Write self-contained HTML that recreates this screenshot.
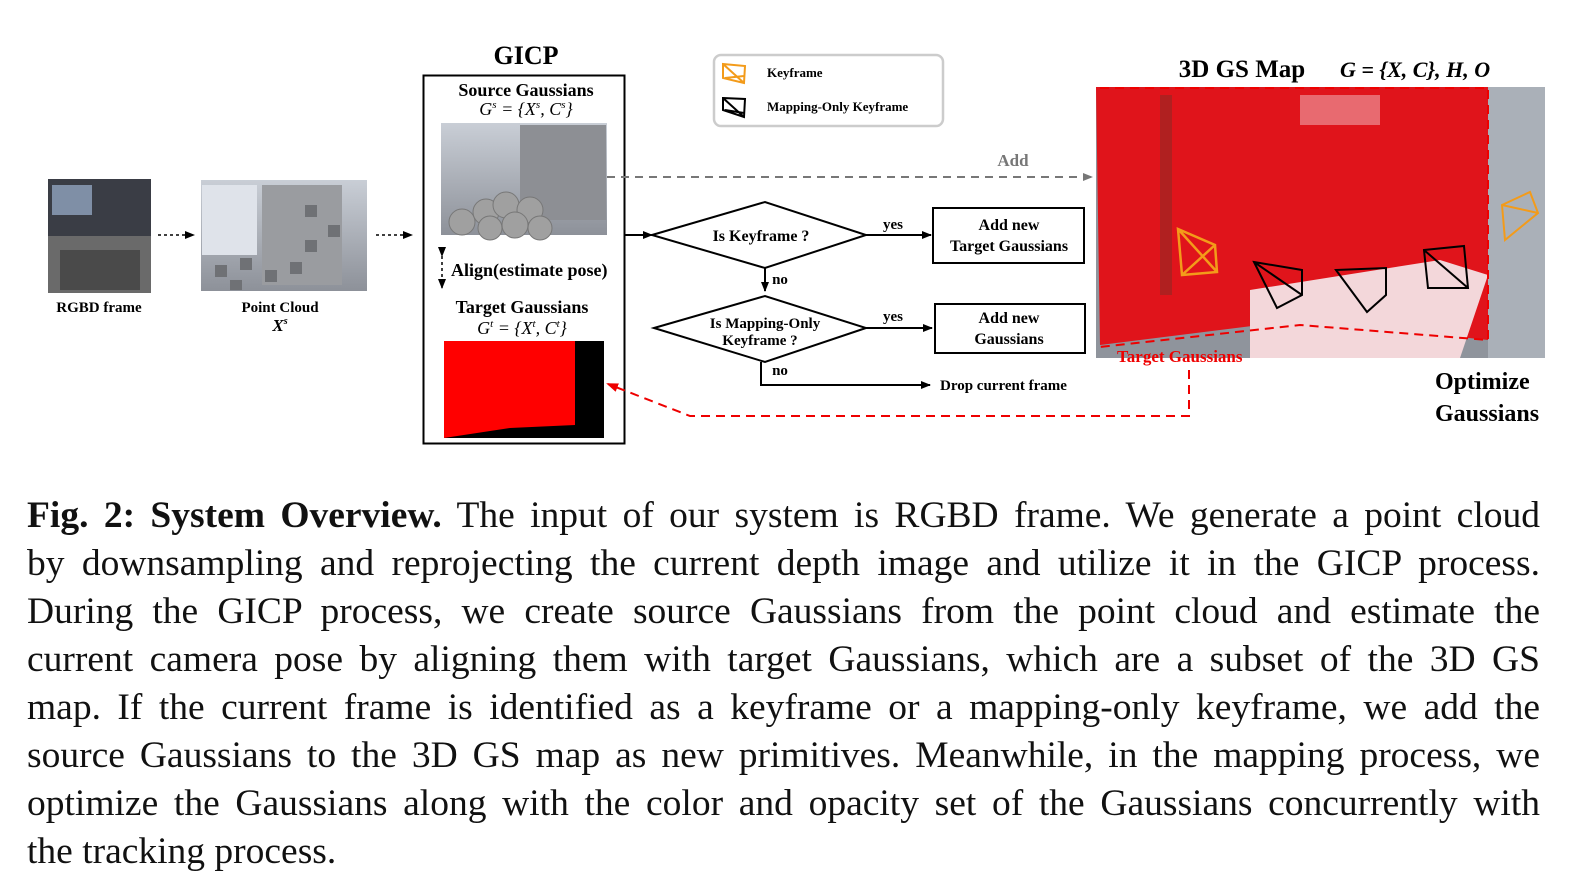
<!DOCTYPE html>
<html><head><meta charset="utf-8"><style>
body{margin:0;background:#fff;width:1578px;height:888px;overflow:hidden;position:relative;font-family:"Liberation Serif",serif}
svg{position:absolute;left:0;top:0}
.cap{position:absolute;left:27px;top:492px;width:1513px;font-size:37.5px;line-height:48px;color:#111}
.cap div{text-align:justify;text-align-last:justify;white-space:nowrap}
.cap div.l{text-align-last:left}
</style></head><body>
<svg width="1578" height="460" viewBox="0 0 1578 460" font-family="Liberation Serif, serif">
<defs>
<marker id="ab" markerWidth="10" markerHeight="8" refX="9" refY="4" orient="auto" markerUnits="userSpaceOnUse"><path d="M0,0L10,4L0,8z" fill="#000"/></marker>
<marker id="ag" markerWidth="10" markerHeight="8" refX="9" refY="4" orient="auto" markerUnits="userSpaceOnUse"><path d="M0,0L10,4L0,8z" fill="#777"/></marker>
<marker id="ar" markerWidth="12" markerHeight="9" refX="10" refY="4.5" orient="auto" markerUnits="userSpaceOnUse"><path d="M0,0L12,4.5L0,9z" fill="#e00"/></marker>
<linearGradient id="sky" x1="0" y1="0" x2="0" y2="1"><stop offset="0" stop-color="#c9ced6"/><stop offset="1" stop-color="#8d9199"/></linearGradient>
</defs>
<rect x="48" y="179" width="103" height="57" fill="#3a3d45"/>
<rect x="52" y="185" width="40" height="30" fill="#7f8fa6"/>
<rect x="48" y="236" width="103" height="57" fill="#6a6a6a"/>
<rect x="60" y="250" width="80" height="40" fill="#4a4a4a"/>
<text x="99" y="312" font-size="15" font-weight="bold" text-anchor="middle">RGBD frame</text>
<line x1="158" y1="235" x2="194" y2="235" stroke="#000" stroke-width="1.5" stroke-dasharray="3,3" marker-end="url(#ab)"/>
<rect x="201" y="180" width="166" height="111" fill="url(#sky)"/>
<rect x="262" y="185" width="80" height="100" fill="#9a9ca0"/>
<rect x="202" y="185" width="55" height="70" fill="#dfe3ea"/>
<g fill="#6f7175"><rect x="215" y="265" width="12" height="12"/><rect x="240" y="258" width="12" height="12"/><rect x="265" y="270" width="12" height="12"/><rect x="290" y="262" width="12" height="12"/><rect x="305" y="205" width="12" height="12"/><rect x="328" y="225" width="12" height="12"/><rect x="305" y="240" width="12" height="12"/><rect x="230" y="280" width="12" height="10"/></g>
<text x="280" y="312" font-size="15" font-weight="bold" text-anchor="middle">Point Cloud</text>
<text x="280" y="331" font-size="17" font-style="italic" font-weight="bold" text-anchor="middle">X<tspan font-size="10" dy="-7">s</tspan></text>
<line x1="376" y1="235" x2="412" y2="235" stroke="#000" stroke-width="1.5" stroke-dasharray="3,3" marker-end="url(#ab)"/>
<text x="526" y="64" font-size="26" font-weight="bold" text-anchor="middle">GICP</text>
<rect x="423.5" y="75.5" width="201" height="368" fill="none" stroke="#000" stroke-width="2"/>
<text x="526" y="96" font-size="18" font-weight="bold" text-anchor="middle">Source Gaussians</text>
<text x="526" y="115" font-size="18" font-style="italic" text-anchor="middle">G<tspan font-size="11" dy="-7">s</tspan><tspan dy="7"> = {X</tspan><tspan font-size="11" dy="-7">s</tspan><tspan dy="7">, C</tspan><tspan font-size="11" dy="-7">s</tspan><tspan dy="7">}</tspan></text>
<rect x="441" y="123" width="166" height="112" fill="url(#sky)"/>
<rect x="520" y="125" width="86" height="95" fill="#8d8f94"/>
<g fill="#a0a0a0" stroke="#777"><circle cx="462" cy="222" r="13"/><circle cx="486" cy="212" r="13"/><circle cx="506" cy="205" r="13"/><circle cx="530" cy="210" r="13"/><circle cx="515" cy="225" r="13"/><circle cx="540" cy="228" r="12"/><circle cx="490" cy="228" r="12"/></g>
<line x1="442" y1="256" x2="442" y2="288" stroke="#000" stroke-width="1.5" stroke-dasharray="3,3" marker-start="url(#ab)" marker-end="url(#ab)"/>
<text x="451" y="276" font-size="18" font-weight="bold">Align(estimate pose)</text>
<text x="522" y="313" font-size="18" font-weight="bold" text-anchor="middle">Target Gaussians</text>
<text x="522" y="334" font-size="18" font-style="italic" text-anchor="middle">G<tspan font-size="11" dy="-7">t</tspan><tspan dy="7"> = {X</tspan><tspan font-size="11" dy="-7">t</tspan><tspan dy="7">, C</tspan><tspan font-size="11" dy="-7">t</tspan><tspan dy="7">}</tspan></text>
<rect x="444" y="341" width="160" height="97" fill="#000"/>
<path d="M444,341H575V425L510,428L444,438z" fill="#f00"/>
<line x1="625" y1="235" x2="652" y2="235" stroke="#000" stroke-width="2" marker-end="url(#ab)"/>
<rect x="714" y="55" width="229" height="71" rx="7" fill="#fff" stroke="#ccc" stroke-width="2.5"/>
<path d="M723,64L745,66L744,83L723,78zM723,64L744,83M725,78L744,76" fill="none" stroke="#f39b1a" stroke-width="2"/>
<path d="M723,98L745,99L744,117L723,110zM723,98L744,117M725,110L744,113" fill="none" stroke="#000" stroke-width="2"/>
<text x="767" y="77" font-size="13" font-weight="bold">Keyframe</text>
<text x="767" y="111" font-size="13" font-weight="bold">Mapping-Only Keyframe</text>
<line x1="607" y1="177" x2="1092" y2="177" stroke="#777" stroke-width="2" stroke-dasharray="8,6" marker-end="url(#ag)"/>
<text x="1013" y="166" font-size="17" font-weight="bold" fill="#777" text-anchor="middle">Add</text>
<path d="M652,235L765,202L866,235L765,268z" fill="#fff" stroke="#000" stroke-width="2"/>
<text x="761" y="241" font-size="16" font-weight="bold" text-anchor="middle">Is Keyframe ?</text>
<line x1="866" y1="235" x2="931" y2="235" stroke="#000" stroke-width="2" marker-end="url(#ab)"/>
<text x="893" y="229" font-size="15" font-weight="bold" text-anchor="middle">yes</text>
<rect x="933" y="208" width="151" height="55" fill="#fff" stroke="#000" stroke-width="2"/>
<text x="1009" y="230" font-size="16" font-weight="bold" text-anchor="middle">Add new</text>
<text x="1009" y="251" font-size="16" font-weight="bold" text-anchor="middle">Target Gaussians</text>
<line x1="765" y1="268" x2="765" y2="291" stroke="#000" stroke-width="2" marker-end="url(#ab)"/>
<text x="780" y="284" font-size="15" font-weight="bold" text-anchor="middle">no</text>
<path d="M654,328L765,296L866,328L765,362z" fill="#fff" stroke="#000" stroke-width="2"/>
<text x="765" y="328" font-size="15" font-weight="bold" text-anchor="middle">Is Mapping-Only</text>
<text x="760" y="345" font-size="15" font-weight="bold" text-anchor="middle">Keyframe ?</text>
<line x1="866" y1="328" x2="932" y2="328" stroke="#000" stroke-width="2" marker-end="url(#ab)"/>
<text x="893" y="321" font-size="15" font-weight="bold" text-anchor="middle">yes</text>
<rect x="935" y="304" width="150" height="49" fill="#fff" stroke="#000" stroke-width="2"/>
<text x="1009" y="323" font-size="16" font-weight="bold" text-anchor="middle">Add new</text>
<text x="1009" y="344" font-size="16" font-weight="bold" text-anchor="middle">Gaussians</text>
<path d="M761,362V385H930" fill="none" stroke="#000" stroke-width="2" marker-end="url(#ab)"/>
<text x="780" y="375" font-size="15" font-weight="bold" text-anchor="middle">no</text>
<text x="940" y="390" font-size="15" font-weight="bold">Drop current frame</text>
<path d="M1189,370V416H690L608,384" fill="none" stroke="#e00" stroke-width="2" stroke-dasharray="9,6" marker-end="url(#ar)"/>
<text x="1242" y="77" font-size="25" font-weight="bold" text-anchor="middle">3D GS Map</text>
<text x="1340" y="77" font-size="22" font-style="italic" font-weight="bold">G = {X, C}, H, O</text>
<rect x="1096" y="87" width="449" height="271" fill="#8f949c"/>
<rect x="1488" y="87" width="57" height="271" fill="#aab0b8"/>
<path d="M1096,87H1488V340L1300,320L1100,345z" fill="#e0141b"/>
<path d="M1250,290L1440,260L1488,275L1460,358H1250z" fill="#f3d7da"/>
<rect x="1160" y="95" width="12" height="200" fill="#b02020"/>
<rect x="1300" y="95" width="80" height="30" fill="#e86a70"/>
<path d="M1100,88H1488V340L1300,325L1100,347" fill="none" stroke="#e00" stroke-width="2" stroke-dasharray="9,6"/>
<path d="M1178,229L1215,245L1217,272L1182,275zM1178,229L1217,272M1182,275L1215,245" fill="none" stroke="#f39b1a" stroke-width="2.5"/>
<path d="M1502,205L1530,192L1538,213L1505,240zM1502,205L1538,213" fill="none" stroke="#f39b1a" stroke-width="2"/>
<g fill="none" stroke="#000" stroke-width="2"><path d="M1254,262L1302,270L1302,295L1277,308zM1254,262L1302,295"/><path d="M1336,270L1386,268L1386,295L1367,312zM1336,270L1367,312"/><path d="M1424,250L1464,246L1468,288L1428,288zM1424,250L1468,288"/></g>
<text x="1117" y="362" font-size="17" font-weight="bold" fill="#e00">Target Gaussians</text>
<text x="1435" y="389" font-size="24" font-weight="bold">Optimize</text>
<text x="1435" y="421" font-size="24" font-weight="bold">Gaussians</text>
</svg>
<div class="cap">
<div><b>Fig. 2: System Overview.</b> The input of our system is RGBD frame. We generate a point cloud</div>
<div>by downsampling and reprojecting the current depth image and utilize it in the GICP process.</div>
<div>During the GICP process, we create source Gaussians from the point cloud and estimate the</div>
<div>current camera pose by aligning them with target Gaussians, which are a subset of the 3D GS</div>
<div>map. If the current frame is identified as a keyframe or a mapping-only keyframe, we add the</div>
<div>source Gaussians to the 3D GS map as new primitives. Meanwhile, in the mapping process, we</div>
<div>optimize the Gaussians along with the color and opacity set of the Gaussians concurrently with</div>
<div class="l">the tracking process.</div>
</div>
</body></html>
